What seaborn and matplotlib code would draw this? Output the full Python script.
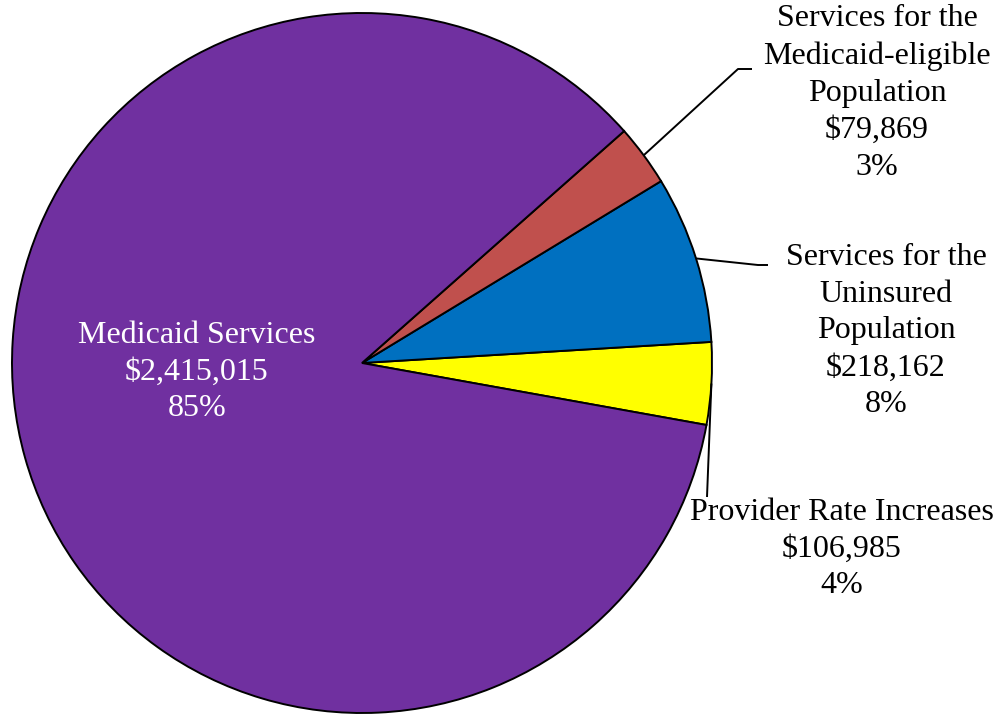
import numpy as np
import matplotlib
matplotlib.use("Agg")
import matplotlib.pyplot as plt
import seaborn as sns

# Budget components (dollars), in drawing order counter-clockwise
categories = [
    "Provider Rate Increases",
    "Services for the\nUninsured\nPopulation",
    "Services for the\nMedicaid-eligible\nPopulation",
    "Medicaid Services",
]
amounts = [106985, 218162, 79869, 2415015]
percent_labels = ["4%", "8%", "3%", "85%"]
colors = ["#FFFF00", "#0070C0", "#C0504D", "#7030A0"]

sns.set_theme(style="white")
plt.rcParams["font.family"] = ["Liberation Serif", "DejaVu Serif"]

W, H = 1003, 715
fig = plt.figure(figsize=(W / 100, H / 100), dpi=100)
ax = fig.add_axes([0, 0, 1, 1])

cx, cy, r = 362, H - 363, 350
wedges, _ = ax.pie(
    amounts,
    colors=colors,
    startangle=-10.2,
    counterclock=True,
    center=(cx, cy),
    radius=r,
    wedgeprops=dict(edgecolor="black", linewidth=1.4),
    frame=True,
)
ax.set_xlim(0, W)
ax.set_ylim(0, H)
ax.set_aspect("equal")
ax.axis("off")


def label_text(i):
    return f"{categories[i]}\n${amounts[i]:,}\n{percent_labels[i]}"


def arc_mid(w):
    ang = np.deg2rad((w.theta1 + w.theta2) / 2)
    return cx + r * np.cos(ang), cy + r * np.sin(ang)


fs = 23
ls = 1.36

# Label blocks: (text centre x, text centre y in px from top)
label_pos = {0: (842, 549), 1: (886, 331), 2: (877, 93), 3: (197, 372)}
# Leader-line elbows (px from top)
leaders = {
    2: [(738, 69), (752, 69)],
    1: [(758, 265), (768, 265)],
    0: [(707, 497)],
}

for i, (x, y) in label_pos.items():
    color = "white" if i == 3 else "black"
    ax.text(x, H - y, label_text(i), ha="center", va="center",
            fontsize=fs, color=color, linespacing=ls)

for i, pts in leaders.items():
    sx, sy = arc_mid(wedges[i])
    xs = [sx] + [p[0] for p in pts]
    ys = [sy] + [H - p[1] for p in pts]
    ax.plot(xs, ys, color="black", linewidth=1.4, solid_capstyle="butt")

fig.savefig("out.png", dpi=100, facecolor="white")
